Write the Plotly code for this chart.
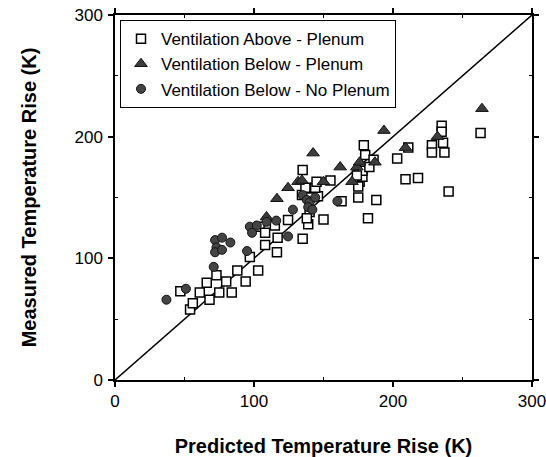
import plotly.graph_objects as go

# Ventilation Above - Plenum (open squares)
above_plenum_x = [47, 54, 56, 61, 68, 75, 84, 66, 73, 80, 94, 88, 103, 97, 108, 116.5, 117,
                  104, 108, 115, 124.5, 135, 139, 140, 138, 150, 146, 134.5, 140, 137, 144,
                  145, 155, 135, 163, 175, 188, 182, 176, 178, 178, 174, 175, 179, 180, 186,
                  183, 203, 209, 218, 211, 228, 228, 236, 237, 235, 235, 240, 263]
above_plenum_y = [73, 58, 63, 72, 66, 72, 72, 80, 86, 81, 81, 90, 90, 101, 111, 105, 117,
                  126, 121, 127, 131.5, 116, 128, 138, 133, 132, 151, 152, 150, 158, 158,
                  163, 164, 172.5, 147, 150, 148, 133, 163, 167, 172, 168, 159, 193, 185, 181,
                  175, 182, 165, 166, 191, 193, 187, 195, 187, 209, 204, 155, 203]

# Ventilation Below - Plenum (filled triangles)
below_plenum_x = [109, 116.5, 124.5, 131.7, 134.5, 142.5, 150, 162, 170.5, 174, 176,
                  187, 193.5, 209, 232, 264]
below_plenum_y = [134, 149, 158, 163, 164, 186.5, 163, 175, 163, 175, 179,
                  179, 205, 191, 200, 223]

# Ventilation Below - No Plenum (filled circles)
below_noplenum_x = [37, 51, 71, 72, 77, 83, 73, 72, 77, 95, 97, 102, 109, 98.6, 116,
                    124.5, 128, 135, 138, 140, 139, 142, 160, 144]
below_noplenum_y = [66, 75, 93, 115, 117, 113, 109, 105, 107, 106, 126, 127, 130, 121, 131,
                    118, 140, 152, 148, 146, 142, 140, 147, 150]

# 1:1 reference line
ref_line_x = [0, 300]
ref_line_y = [0, 300]

# axis ticks
major_ticks = [0, 100, 200, 300]
minor_ticks = [50, 150, 250]

FONT = "Liberation Sans, Arial, Helvetica, sans-serif"

fig = go.Figure()

fig.add_trace(go.Scatter(
    x=ref_line_x, y=ref_line_y, mode="lines",
    line=dict(color="black", width=1.5), showlegend=False, hoverinfo="skip"))

fig.add_trace(go.Scatter(
    x=above_plenum_x, y=above_plenum_y, mode="markers",
    name="Ventilation Above - Plenum",
    marker=dict(symbol="square", size=9, color="white",
                line=dict(color="black", width=1.5))))

fig.add_trace(go.Scatter(
    x=below_plenum_x, y=below_plenum_y, mode="markers",
    name="Ventilation Below - Plenum",
    marker=dict(symbol="triangle-up", size=11, color="#3c3c3c",
                line=dict(color="#111111", width=1))))

fig.add_trace(go.Scatter(
    x=below_noplenum_x, y=below_noplenum_y, mode="markers",
    name="Ventilation Below - No Plenum",
    marker=dict(symbol="circle", size=9, color="#444444",
                line=dict(color="#111111", width=1))))

axis_common = dict(
    range=[0, 300], tickvals=major_ticks,
    showline=True, linecolor="black", linewidth=1.5, mirror="ticks",
    ticks="outside", ticklen=5, tickcolor="black", tickwidth=1.5,
    minor=dict(tickvals=minor_ticks, ticks="inside", ticklen=3,
               tickcolor="black", tickwidth=1),
    showgrid=False, zeroline=False, automargin=False,
    ticklabeloverflow="allow",
    tickfont=dict(family=FONT, size=17, color="black"),
)

fig.update_xaxes(**axis_common, ticklabelstandoff=0,
                 title=dict(text="<b>Predicted Temperature Rise (K)</b>",
                            font=dict(family=FONT, size=20, color="black"),
                            standoff=30))
fig.update_yaxes(**axis_common, ticklabelstandoff=2,
                 title=dict(text="<b>Measured Temperature Rise (K)</b>",
                            font=dict(family=FONT, size=20, color="black"),
                            standoff=32))

fig.update_layout(
    width=546, height=457,
    margin=dict(l=115, r=14, t=15, b=77),
    paper_bgcolor="white", plot_bgcolor="white",
    font=dict(family=FONT, color="black"),
    legend=dict(
        x=0.012, y=0.986, xanchor="left", yanchor="top",
        bgcolor="white", bordercolor="black", borderwidth=1,
        font=dict(family=FONT, size=17, color="black"),
        tracegroupgap=0,
    ),
)

fig.write_html("out.html")
